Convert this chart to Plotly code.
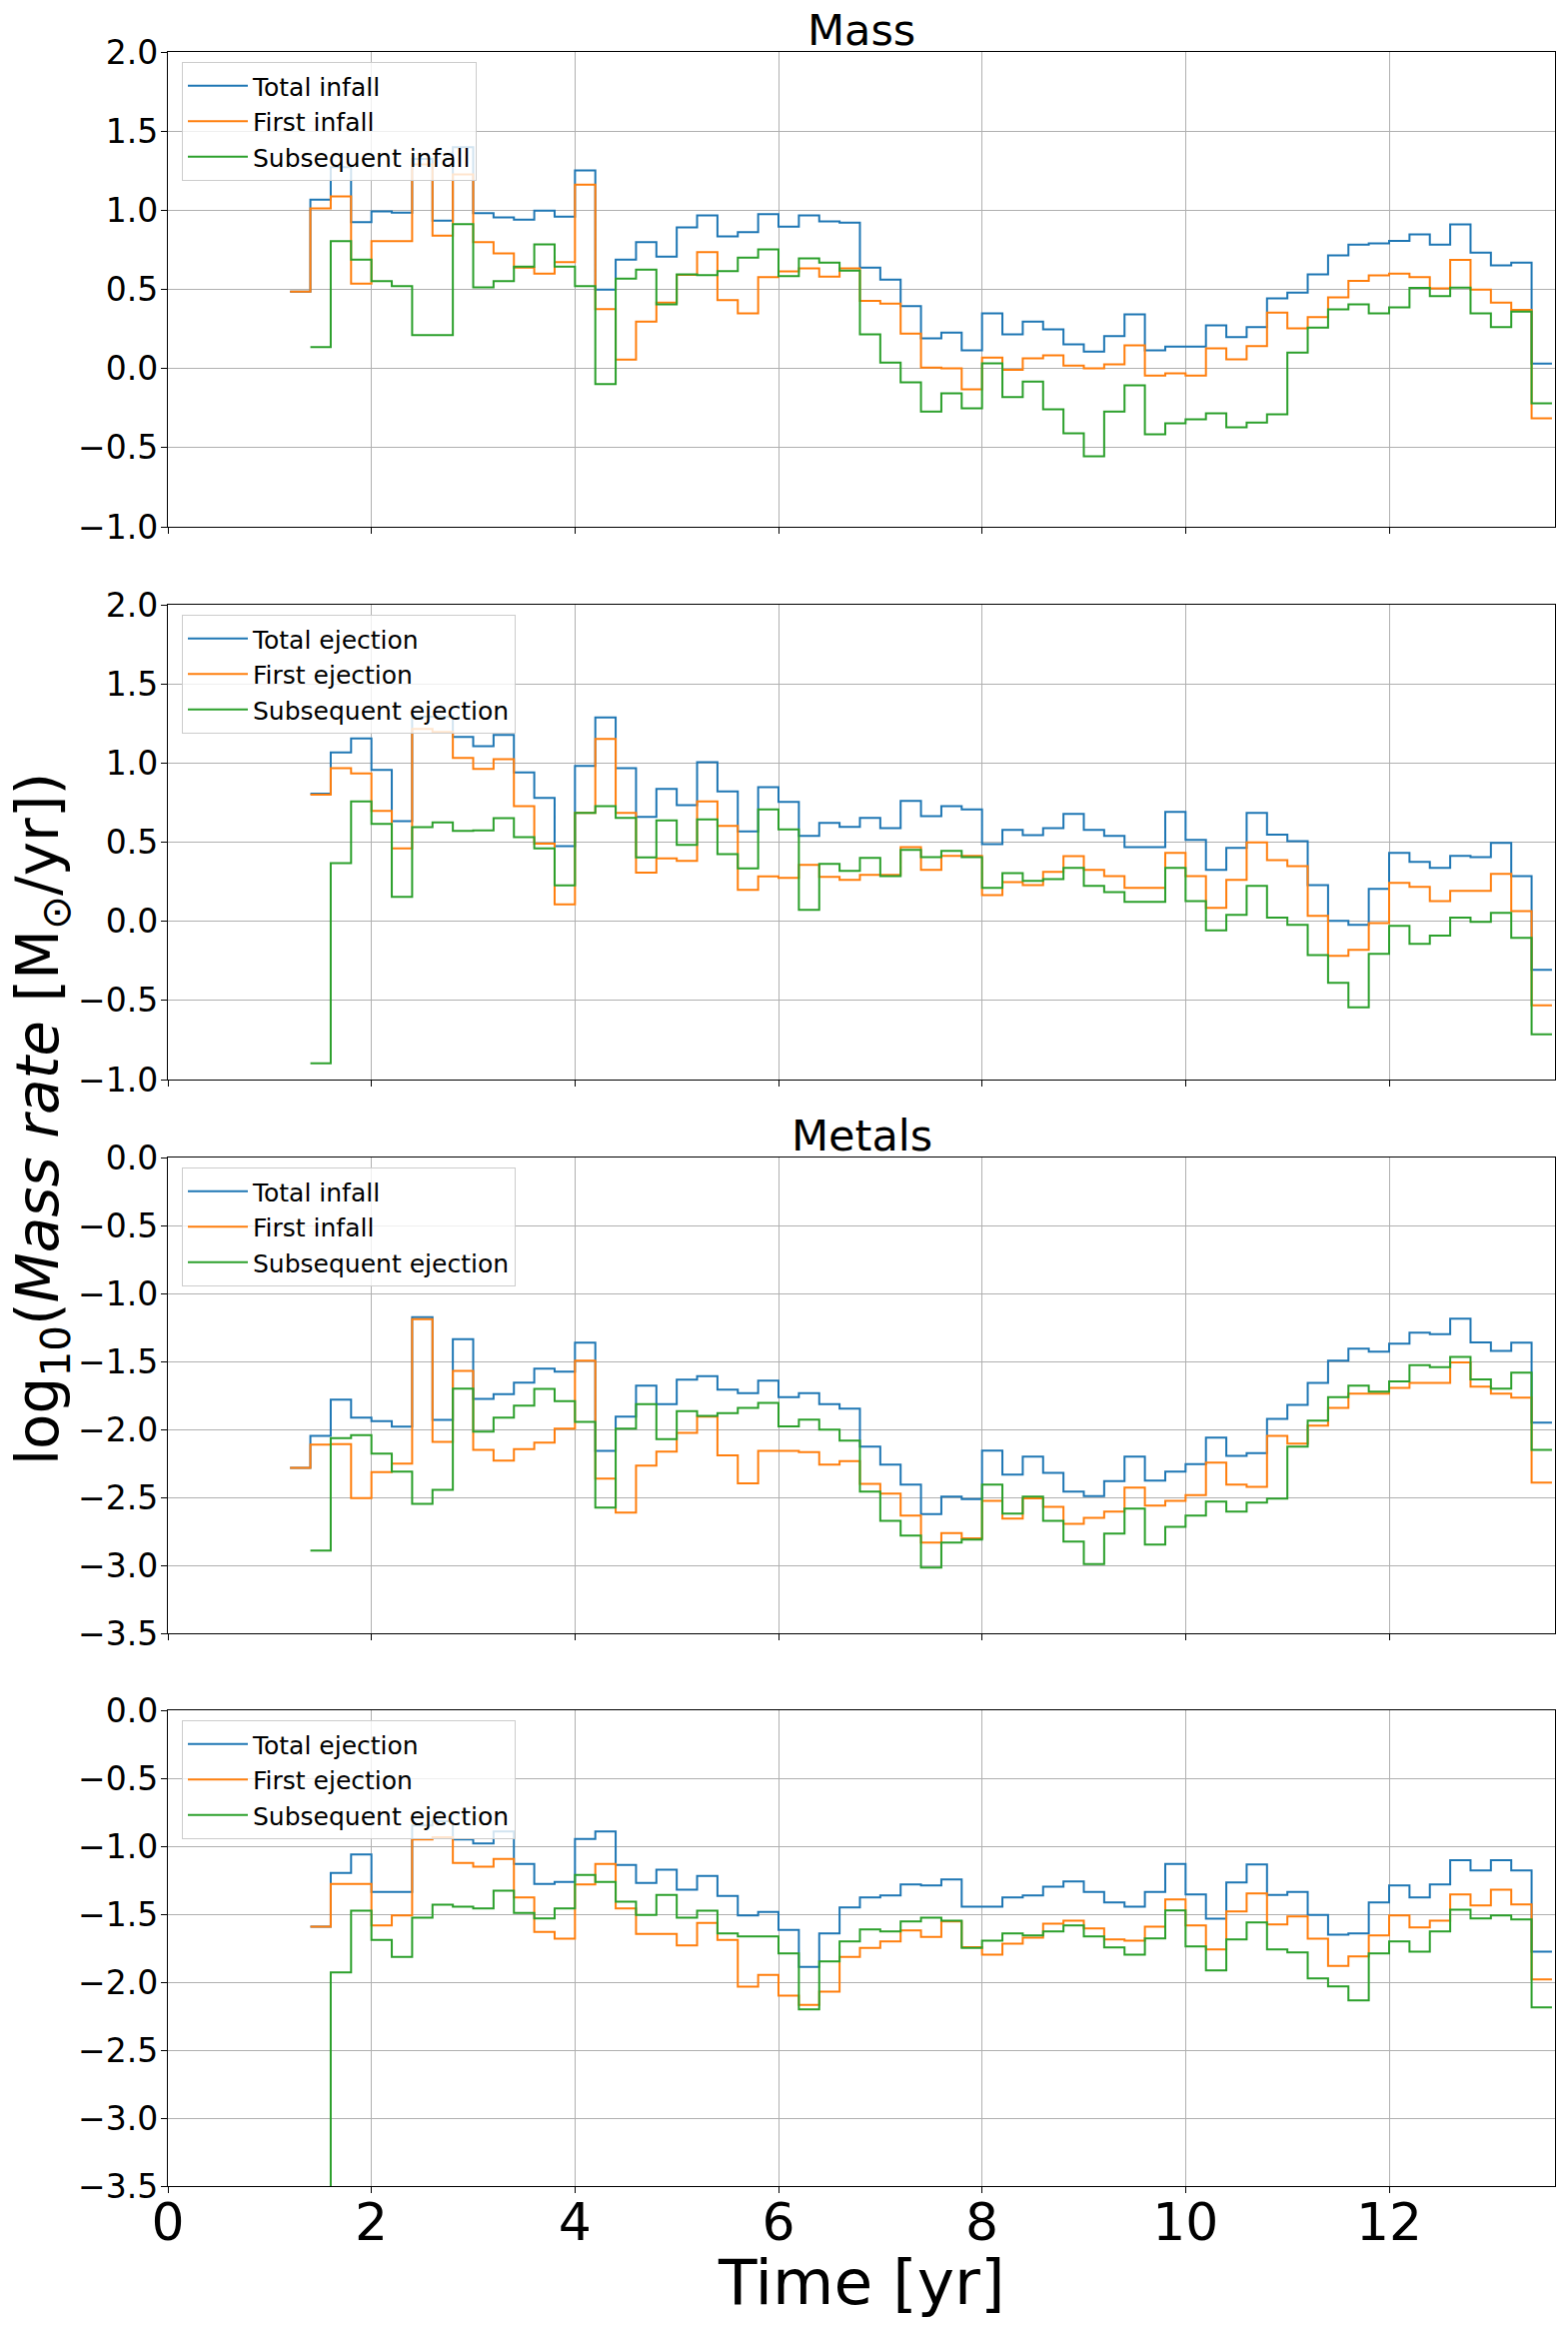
import plotly.graph_objects as go
from plotly.subplots import make_subplots

# bin edges of the time grid [Gyr]; last entry closes the final step
time_edges = [1.2, 1.4, 1.6, 1.8, 2.0, 2.2, 2.4, 2.6, 2.8, 3.0,
              3.2, 3.4, 3.6, 3.8, 4.0, 4.2, 4.4, 4.6, 4.8, 5.0,
              5.2, 5.4, 5.6, 5.8, 6.0, 6.2, 6.4, 6.6, 6.8, 7.0,
              7.2, 7.4, 7.6, 7.8, 8.0, 8.2, 8.4, 8.6, 8.8, 9.0,
              9.2, 9.4, 9.6, 9.8, 10.0, 10.2, 10.4, 10.6, 10.8, 11.0,
              11.2, 11.4, 11.6, 11.8, 12.0, 12.2, 12.4, 12.6, 12.8, 13.0,
              13.2, 13.4, 13.6]

# --- mass, infall ---
mass_total_infall = [0.486, 1.067, 1.272, 0.924, 0.992, 0.985, 1.325, 0.935, 1.398, 0.981,
                     0.954, 0.941, 0.998, 0.960, 1.251, 0.499, 0.688, 0.798, 0.707, 0.891,
                     0.968, 0.834, 0.861, 0.975, 0.897, 0.967, 0.929, 0.922, 0.637, 0.561,
                     0.394, 0.191, 0.227, 0.114, 0.349, 0.216, 0.297, 0.247, 0.152, 0.107,
                     0.204, 0.342, 0.114, 0.139, 0.139, 0.272, 0.198, 0.261, 0.443, 0.480,
                     0.595, 0.714, 0.782, 0.791, 0.807, 0.847, 0.782, 0.910, 0.732, 0.651,
                     0.669, 0.031]
mass_first_infall = [0.486, 1.011, 1.088, 0.537, 0.804, 0.804, 1.290, 0.840, 1.227, 0.798,
                     0.728, 0.638, 0.600, 0.672, 1.162, 0.375, 0.057, 0.297, 0.417, 0.592,
                     0.735, 0.432, 0.349, 0.577, 0.614, 0.633, 0.581, 0.633, 0.428, 0.410,
                     0.220, 0.006, 0.001, -0.132, 0.069, -0.008, 0.064, 0.083, 0.019, 0.001,
                     0.026, 0.146, -0.044, -0.030, -0.044, 0.128, 0.058, 0.141, 0.353, 0.254,
                     0.324, 0.450, 0.554, 0.588, 0.599, 0.577, 0.507, 0.687, 0.498, 0.416,
                     0.371, -0.314]
mass_sub_infall = [None, 0.135, 0.804, 0.688, 0.552, 0.520, 0.211, 0.211, 0.912, 0.512,
                   0.552, 0.644, 0.785, 0.644, 0.520, -0.099, 0.568, 0.625, 0.406, 0.594,
                   0.590, 0.615, 0.701, 0.752, 0.583, 0.696, 0.669, 0.619, 0.216, 0.037,
                   -0.087, -0.272, -0.157, -0.251, 0.033, -0.181, -0.082, -0.258, -0.409, -0.554,
                   -0.272, -0.107, -0.416, -0.346, -0.321, -0.283, -0.371, -0.342, -0.290, 0.101,
                   0.259, 0.374, 0.405, 0.349, 0.387, 0.509, 0.457, 0.511, 0.349, 0.261,
                   0.360, -0.220]

# --- mass, ejection ---
mass_total_eject = [None, 0.806, 1.067, 1.156, 0.956, 0.632, 1.293, 1.293, 1.164, 1.107,
                    1.177, 0.941, 0.779, 0.474, 0.981, 1.288, 0.968, 0.659, 0.836, 0.733,
                    1.006, 0.821, 0.568, 0.848, 0.754, 0.539, 0.621, 0.596, 0.653, 0.589,
                    0.760, 0.665, 0.728, 0.707, 0.488, 0.577, 0.545, 0.589, 0.678, 0.577,
                    0.539, 0.469, 0.469, 0.691, 0.514, 0.324, 0.463, 0.684, 0.547, 0.507,
                    0.229, 0.002, -0.023, 0.204, 0.432, 0.375, 0.337, 0.413, 0.406, 0.495,
                    0.286, -0.307]
mass_first_eject = [None, 0.800, 0.968, 0.935, 0.697, 0.461, 1.215, 1.196, 1.032, 0.962,
                    1.025, 0.728, 0.491, 0.107, 0.684, 1.152, 0.684, 0.307, 0.398, 0.381,
                    0.758, 0.602, 0.198, 0.284, 0.274, 0.356, 0.280, 0.261, 0.293, 0.293,
                    0.469, 0.324, 0.413, 0.413, 0.166, 0.248, 0.229, 0.312, 0.411, 0.324,
                    0.286, 0.211, 0.211, 0.432, 0.286, 0.084, 0.261, 0.499, 0.387, 0.349,
                    0.034, -0.219, -0.181, -0.011, 0.242, 0.217, 0.128, 0.192, 0.192, 0.299,
                    0.065, -0.531]
mass_sub_eject = [None, -0.897, 0.368, 0.758, 0.615, 0.154, 0.594, 0.625, 0.571, 0.575,
                  0.651, 0.531, 0.461, 0.227, 0.684, 0.728, 0.653, 0.404, 0.638, 0.482,
                  0.644, 0.425, 0.335, 0.707, 0.581, 0.072, 0.362, 0.318, 0.400, 0.286,
                  0.451, 0.406, 0.444, 0.406, 0.211, 0.305, 0.255, 0.267, 0.337, 0.223,
                  0.185, 0.122, 0.122, 0.337, 0.128, -0.057, 0.040, 0.223, 0.023, -0.023,
                  -0.213, -0.389, -0.543, -0.206, -0.029, -0.143, -0.091, 0.023, -0.004, 0.053,
                  -0.105, -0.714]

# --- metals, infall ---
metal_total_infall = [-2.284, -2.047, -1.782, -1.914, -1.939, -1.980, -1.174, -1.931, -1.336, -1.775,
                      -1.740, -1.657, -1.554, -1.576, -1.363, -2.159, -1.907, -1.679, -1.814, -1.635,
                      -1.608, -1.708, -1.733, -1.642, -1.762, -1.733, -1.814, -1.848, -2.127, -2.260,
                      -2.407, -2.623, -2.495, -2.512, -2.157, -2.333, -2.201, -2.319, -2.458, -2.490,
                      -2.380, -2.201, -2.377, -2.311, -2.255, -2.061, -2.194, -2.174, -1.922, -1.819,
                      -1.659, -1.495, -1.407, -1.429, -1.370, -1.289, -1.299, -1.186, -1.360, -1.422,
                      -1.363, -1.951]
metal_first_infall = [-2.284, -2.113, -2.108, -2.505, -2.314, -2.252, -1.189, -2.091, -1.569, -2.150,
                      -2.230, -2.145, -2.098, -1.995, -1.495, -2.363, -2.613, -2.267, -2.164, -2.025,
                      -1.907, -2.191, -2.397, -2.159, -2.159, -2.167, -2.260, -2.233, -2.400, -2.473,
                      -2.635, -2.833, -2.762, -2.801, -2.525, -2.657, -2.507, -2.569, -2.694, -2.650,
                      -2.605, -2.429, -2.561, -2.525, -2.483, -2.245, -2.407, -2.422, -2.047, -2.105,
                      -1.973, -1.841, -1.738, -1.738, -1.694, -1.659, -1.659, -1.507, -1.686, -1.738,
                      -1.767, -2.392]
metal_sub_infall = [None, -2.892, -2.064, -2.042, -2.179, -2.311, -2.547, -2.444, -1.701, -2.017,
                    -1.914, -1.826, -1.703, -1.792, -1.944, -2.576, -1.995, -1.814, -2.071, -1.865,
                    -1.900, -1.880, -1.841, -1.806, -1.978, -1.929, -2.002, -2.083, -2.458, -2.672,
                    -2.782, -3.017, -2.833, -2.811, -2.407, -2.620, -2.495, -2.672, -2.826, -2.990,
                    -2.767, -2.583, -2.848, -2.716, -2.635, -2.532, -2.605, -2.539, -2.510, -2.127,
                    -1.936, -1.762, -1.679, -1.723, -1.647, -1.527, -1.542, -1.466, -1.632, -1.701,
                    -1.583, -2.150]

# --- metals, ejection ---
metal_total_eject = [None, -1.591, -1.196, -1.061, -1.336, -1.336, -0.848, -0.816, -0.951, -0.980,
                     -0.892, -1.130, -1.277, -1.262, -0.946, -0.892, -1.137, -1.270, -1.172, -1.319,
                     -1.218, -1.365, -1.510, -1.483, -1.615, -1.887, -1.642, -1.451, -1.377, -1.363,
                     -1.282, -1.289, -1.245, -1.444, -1.444, -1.377, -1.363, -1.297, -1.260, -1.336,
                     -1.414, -1.444, -1.336, -1.130, -1.355, -1.534, -1.267, -1.135, -1.358, -1.336,
                     -1.505, -1.650, -1.642, -1.414, -1.289, -1.377, -1.282, -1.103, -1.179, -1.103,
                     -1.179, -1.775]
metal_first_eject = [None, -1.591, -1.277, -1.277, -1.583, -1.510, -0.951, -0.934, -1.123, -1.150,
                     -1.093, -1.377, -1.630, -1.681, -1.282, -1.130, -1.458, -1.645, -1.645, -1.730,
                     -1.564, -1.689, -2.034, -1.946, -2.100, -2.167, -2.069, -1.814, -1.748, -1.701,
                     -1.620, -1.667, -1.554, -1.742, -1.797, -1.716, -1.672, -1.569, -1.547, -1.605,
                     -1.686, -1.694, -1.591, -1.392, -1.583, -1.760, -1.480, -1.348, -1.576, -1.517,
                     -1.681, -1.880, -1.811, -1.657, -1.510, -1.598, -1.547, -1.355, -1.436, -1.319,
                     -1.429, -1.980]
metal_sub_eject = [None, -4.200, -1.929, -1.475, -1.689, -1.814, -1.525, -1.431, -1.444, -1.458,
                   -1.328, -1.490, -1.532, -1.458, -1.211, -1.262, -1.409, -1.505, -1.358, -1.525,
                   -1.475, -1.642, -1.664, -1.664, -1.789, -2.201, -1.848, -1.701, -1.613, -1.627,
                   -1.554, -1.525, -1.547, -1.748, -1.694, -1.642, -1.657, -1.627, -1.583, -1.664,
                   -1.745, -1.797, -1.679, -1.473, -1.738, -1.914, -1.686, -1.561, -1.760, -1.782,
                   -1.973, -2.032, -2.135, -1.789, -1.701, -1.775, -1.627, -1.466, -1.532, -1.510,
                   -1.539, -2.186]

panels = [
    ("Mass", (-1, 2), [("Total infall", mass_total_infall),
                       ("First infall", mass_first_infall),
                       ("Subsequent infall", mass_sub_infall)]),
    (None, (-1, 2), [("Total ejection", mass_total_eject),
                     ("First ejection", mass_first_eject),
                     ("Subsequent ejection", mass_sub_eject)]),
    ("Metals", (-3.5, 0), [("Total infall", metal_total_infall),
                           ("First infall", metal_first_infall),
                           ("Subsequent ejection", metal_sub_infall)]),
    (None, (-3.5, 0), [("Total ejection", metal_total_eject),
                       ("First ejection", metal_first_eject),
                       ("Subsequent ejection", metal_sub_eject)]),
]
colors = ["#1f77b4", "#ff7f0e", "#2ca02c"]

# page has an 8px body margin, so the figure is shrunk and coordinates shifted
OFF = 8
FW, FH = 1569 - 2 * OFF, 2328 - 2 * OFF
FONT = "DejaVu Sans"


def px_x(sx):
    return (sx - OFF) / FW


def px_y(sy):
    return 1 - (sy - OFF) / FH


ax_left, ax_right = 168, 1556
rows_px = [(52, 527), (605, 1080), (1158, 1634), (1711, 2187)]

fig = make_subplots(rows=4, cols=1, shared_xaxes=True)

annotations = []
for i, (title, yrange, series) in enumerate(panels):
    row = i + 1
    leg = "legend" if i == 0 else "legend%d" % row
    for (name, vals), color in zip(series, colors):
        fig.add_trace(go.Scatter(
            x=time_edges, y=vals + [vals[-1]],
            mode="lines", line_shape="hv",
            line=dict(color=color, width=2),
            name=name, legend=leg, hoverinfo="skip",
        ), row=row, col=1)

    top, bot = rows_px[i]
    xa = "xaxis" if i == 0 else "xaxis%d" % row
    ya = "yaxis" if i == 0 else "yaxis%d" % row
    fig.update_layout(**{
        xa: dict(domain=[px_x(ax_left), px_x(ax_right)], range=[0, 13.63],
                 tickvals=[0, 2, 4, 6, 8, 10, 12], showticklabels=(row == 4),
                 tickfont=dict(size=52, family=FONT, color="black"),
                 ticklabelstandoff=-16,
                 showgrid=True, gridcolor="#b0b0b0", gridwidth=1,
                 showline=True, mirror=True, linecolor="black", linewidth=1.3,
                 ticks="outside", ticklen=6, tickwidth=1.3, tickcolor="black",
                 zeroline=False, automargin=False),
        ya: dict(domain=[px_y(bot), px_y(top)], range=list(yrange),
                 dtick=0.5, tick0=0, tickformat=".1f",
                 tickfont=dict(size=33, family=FONT, color="black"),
                 ticklabelstandoff=-4,
                 showgrid=True, gridcolor="#b0b0b0", gridwidth=1,
                 showline=True, mirror=True, linecolor="black", linewidth=1.3,
                 ticks="outside", ticklen=6, tickwidth=1.3, tickcolor="black",
                 zeroline=False, automargin=False),
        leg: dict(x=px_x(ax_left + 14), y=px_y(top + 10),
                  xanchor="left", yanchor="top", itemwidth=60,
                  bgcolor="rgba(255,255,255,0.8)", bordercolor="#cccccc",
                  borderwidth=1, font=dict(size=25, family=FONT, color="black"),
                  tracegroupgap=0),
    })
    if title:
        annotations.append(dict(
            text=title, xref="paper", yref="paper",
            x=px_x((ax_left + ax_right) / 2), y=px_y(top - 22),
            xanchor="center", yanchor="middle", showarrow=False,
            font=dict(size=43, family=FONT, color="black")))

annotations.append(dict(
    text="log<sub>10</sub>(<i>Mass rate</i> [M<sub>⊙</sub>/yr])",
    xref="paper", yref="paper", x=px_x(42), y=px_y(1120),
    xanchor="center", yanchor="middle", textangle=-90, showarrow=False,
    font=dict(size=58, family=FONT, color="black")))
annotations.append(dict(
    text="Time [yr]", xref="paper", yref="paper",
    x=px_x(862), y=px_y(2283),
    xanchor="center", yanchor="middle", showarrow=False,
    font=dict(size=63, family=FONT, color="black")))

fig.update_layout(
    width=FW, height=FH,
    margin=dict(l=0, r=0, t=0, b=0, autoexpand=False),
    paper_bgcolor="white", plot_bgcolor="white",
    font=dict(family=FONT, color="black"),
    annotations=annotations,
)

fig.write_html("out.html")
